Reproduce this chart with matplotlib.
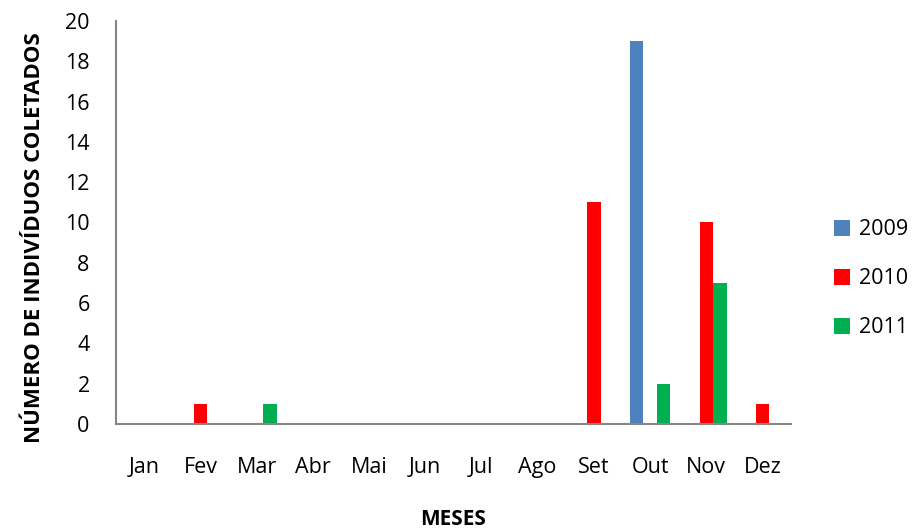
import numpy as np
import matplotlib
matplotlib.use("Agg")
import matplotlib.pyplot as plt

plt.rcParams['font.family'] = ['Open Sans', 'DejaVu Sans']

# monthly counts of collected individuals
meses = ['Jan', 'Fev', 'Mar', 'Abr', 'Mai', 'Jun', 'Jul', 'Ago', 'Set', 'Out', 'Nov', 'Dez']
anos = ['2009', '2010', '2011']
v2009 = [0, 0, 0, 0, 0, 0, 0, 0, 0, 19, 0, 0]
v2010 = [0, 1, 0, 0, 0, 0, 0, 0, 11, 0, 10, 1]
v2011 = [0, 0, 1, 0, 0, 0, 0, 0, 0, 2, 7, 0]
cores = ['#4F81BD', '#FF0000', '#00B050']

fig = plt.figure(figsize=(9.14, 5.29), dpi=100)
ax = fig.add_axes([0.127, 0.1985, 0.738, 0.762])

x = np.arange(len(meses))
w = 0.24
for i, (vals, ano) in enumerate(zip([v2009, v2010, v2011], anos)):
    ax.bar(x + (i - 1) * w, vals, w, color=cores[i], label=ano)

ax.set_xlim(-0.5, 11.5)
ax.set_ylim(0, 20)
ax.set_yticks(range(0, 21, 2))
ax.set_xticks(x)
ax.set_xticklabels(meses)
ax.tick_params(length=0, labelsize=15.5)
ax.tick_params(axis='y', pad=19)
ax.tick_params(axis='x', pad=24)
for s in ['top', 'right']:
    ax.spines[s].set_visible(False)
for s in ['left', 'bottom']:
    ax.spines[s].set_color('#868686')
    ax.spines[s].set_linewidth(1.5)

ax.set_ylabel('NÚMERO DE INDIVÍDUOS COLETADOS', fontsize=16, fontweight='bold')
ax.yaxis.set_label_coords(-0.106, 0.463)
ax.set_xlabel('MESES', fontsize=15, fontweight='bold', labelpad=22)

ax.legend(loc='center left', bbox_to_anchor=(1.035, 0.36), frameon=False, fontsize=15.5,
          handlelength=0.75, handleheight=0.75, labelspacing=1.3, handletextpad=0.45)

fig.savefig('out.png', dpi=100)
